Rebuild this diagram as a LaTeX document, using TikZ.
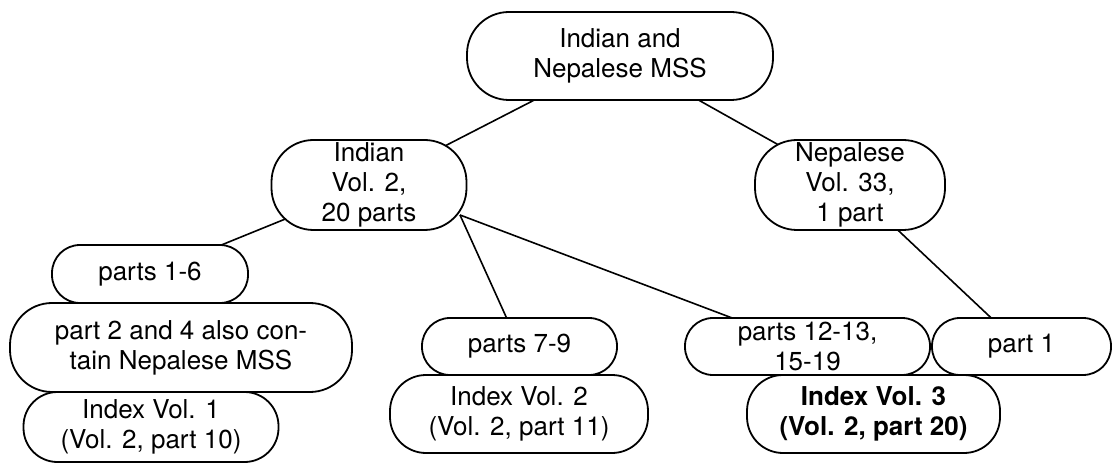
\documentclass[tikz,border=0pt]{standalone}
\usepackage{fontspec}
\setmainfont{TeX Gyre Heros}
\usetikzlibrary{
	backgrounds
}
\tikzset{
	mssnode/.style={draw, fill=white, line width=0.9pt, align=center, inner sep=0pt, font=\fontsize{13}{15}\selectfont},
	tallbox/.style={mssnode, minimum height=45pt, rounded corners=21pt},
	indexbox/.style={mssnode, minimum height=39pt, rounded corners=18pt},
	flatbox/.style={mssnode, minimum height=28.5pt, rounded corners=14pt},
	mssedge/.style={line width=0.8pt}
}

\begin{document}
\begin{tikzpicture}[x=0.5pt, y=-0.5pt]
	\useasboundingbox (0,0) rectangle (1112,464);
	\node[tallbox, minimum width=153pt, minimum height=44pt] (top) at (620,56) {Indian and\\Nepalese MSS};
	\node[tallbox, minimum width=97.5pt] (indian) at (369,185) {Indian\\Vol. 2,\\20 parts};
	\node[tallbox, minimum width=95pt] (nepal) at (850,185) {Nepalese\\Vol. 33,\\1 part};
	\coordinate (indianfork) at (460,215);

	\node[flatbox, minimum width=98pt, minimum height=29pt] (p16) at (150,274) {parts 1-6};
	\node[tallbox, minimum width=171pt, minimum height=44.5pt] (p24) at (181,347.5) {part 2 and 4 also con-\\tain Nepalese MSS};
	\node[indexbox, minimum width=127.5pt, minimum height=35pt, rounded corners=17pt] (idx1) at (151,427) {Index Vol. 1\\(Vol. 2, part 10)};

	\node[flatbox, minimum width=97.5pt] (p79) at (519.5,346.5) {parts 7-9};
	\node[indexbox, minimum width=129pt] (idx2) at (519,414) {Index Vol. 2\\(Vol. 2, part 11)};

	\node[flatbox, minimum width=122.5pt] (p1213) at (807.5,346.5) {parts 12-13,\\15-19};
	\node[flatbox, minimum width=89.5pt] (part1) at (1021.5,346.5) {part 1};
	\node[indexbox, minimum width=126.5pt, font=\fontsize{13}{15}\selectfont\bfseries] (idx3) at (873.5,414) {Index Vol. 3\\(Vol. 2, part 20)};

	\begin{scope}[on background layer]
		\draw[mssedge] (top.center) -- (indian.center);
		\draw[mssedge] (top.center) -- (nepal.center);
		\draw[mssedge] (indian.center) -- (p16.center);
		\draw[mssedge] (indianfork) -- (p79.center);
		\draw[mssedge] (indianfork) -- (p1213.center);
		\draw[mssedge] (nepal.center) -- (part1.center);
	\end{scope}
\end{tikzpicture}
\end{document}
